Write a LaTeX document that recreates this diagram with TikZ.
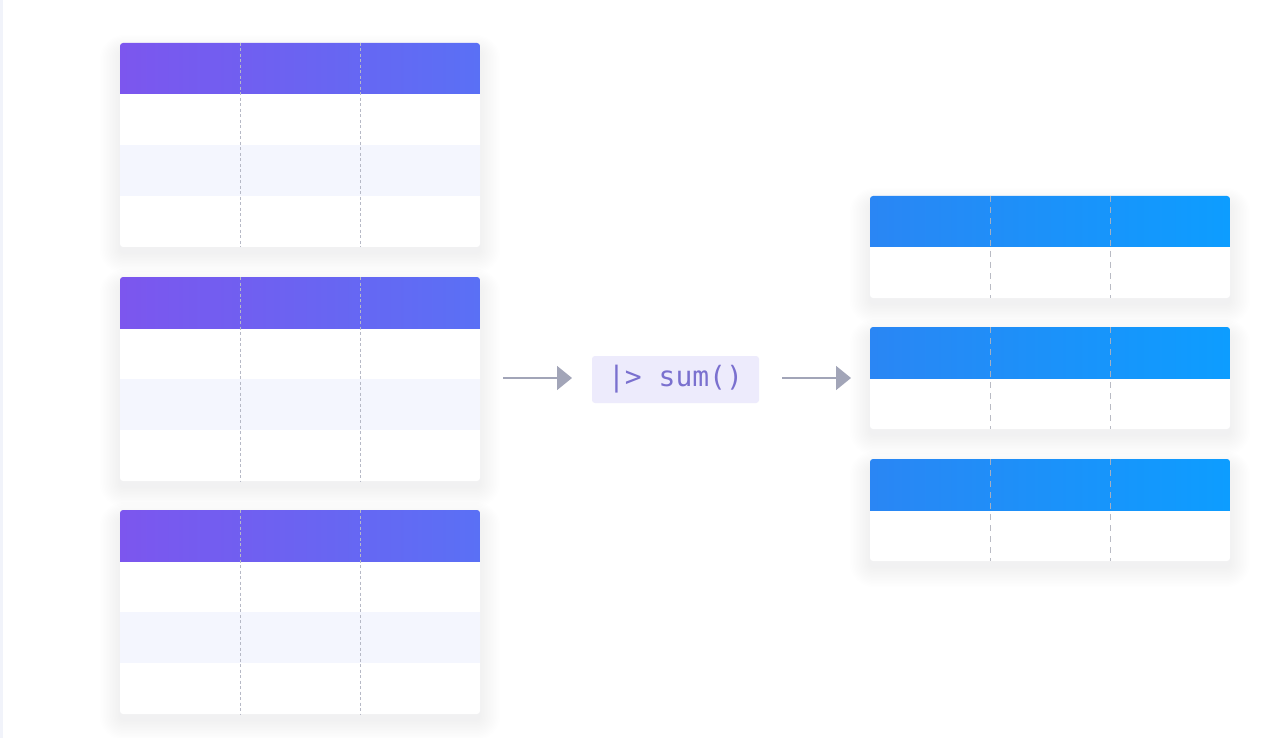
\documentclass[tikz,border=0pt]{standalone}
\usepackage{fontspec}
\setmonofont{DejaVu Sans Mono}
\usetikzlibrary{arrows.meta,calc}
\definecolor{lhl}{HTML}{7C56EE}
\definecolor{lhr}{HTML}{5A70F5}
\definecolor{rhl}{HTML}{2A86F4}
\definecolor{rhr}{HTML}{0D9DFF}
\definecolor{stripecol}{HTML}{F4F6FE}
\definecolor{shadowcol}{HTML}{98A2F2}
\definecolor{ldiv}{HTML}{B6B9C6}
\definecolor{rdiv}{HTML}{B2B4BE}
\definecolor{arrcol}{HTML}{A2A5B8}
\definecolor{opfill}{HTML}{EDEBFC}
\definecolor{optext}{HTML}{7A70CF}
\definecolor{edgecol}{HTML}{F1F3FA}
\tikzset{
  tbl/.style={rectangle, inner sep=0pt, outer sep=0pt, minimum width=360pt, anchor=north west},
  ldash/.style={draw=ldiv, line width=0.9pt, dash pattern=on 3pt off 2.5pt},
  rdash/.style={draw=rdiv, line width=1.6pt, dash pattern=on 6pt off 5pt, draw opacity=0.9},
  conn/.style={draw=arrcol, line width=1.6pt, -{Triangle[length=15pt,width=24pt]}},
  op/.style={rectangle, fill=opfill, rounded corners=3pt, minimum width=167pt, minimum height=47pt,
     inner sep=0pt, text=optext, font=\ttfamily\fontsize{28}{30}\selectfont}
}
% name, x, ytop, nrows(incl header), leftcol, rightcol, divider style, stripe(1/0)
\newcommand\drawtable[8]{%
  \foreach \i in {1,...,14}{%
    \fill[shadowcol, opacity=0.009, rounded corners={3+1.5*\i}]
      ($(#2,#3)+(-1.5*\i+1,-1.2*\i+9)$) rectangle ($(#2,#3)+(359+1.5*\i,51*#4+1.5*\i+5)$);
  }
  \node[tbl, minimum height={51*#4}] (#1) at (#2,#3) {};
  \fill[white, rounded corners=3pt] (#1.north west) rectangle (#1.south east);
  \begin{scope}
    \clip[rounded corners=3pt] (#1.north west) rectangle (#1.south east);
    \shade[left color=#5, right color=#6] (#1.north west) rectangle ([yshift=-51pt]#1.north east);
    \ifnum#8=1
      \fill[stripecol] ([yshift=-102pt]#1.north west) rectangle ([yshift=-153pt]#1.north east);
    \fi
  \end{scope}
  \foreach \k in {1,2}{%
    \draw[#7] ([xshift={\k*120.3pt}]#1.north west) -- ([xshift={\k*120.3pt}]#1.south west);
  }
}
\begin{document}
\begin{tikzpicture}[x=1pt,y=-1pt]
  \useasboundingbox (0,0) rectangle (1280,738);
  \fill[white] (0,0) rectangle (1280,738);
  \fill[edgecol] (0,0) rectangle (2.5,738);

  \drawtable{t1}{120}{43}{4}{lhl}{lhr}{ldash}{1}
  \drawtable{t2}{120}{277}{4}{lhl}{lhr}{ldash}{1}
  \drawtable{t3}{120}{510}{4}{lhl}{lhr}{ldash}{1}

  \drawtable{r1}{870}{196}{2}{rhl}{rhr}{rdash}{0}
  \drawtable{r2}{870}{327}{2}{rhl}{rhr}{rdash}{0}
  \drawtable{r3}{870}{459}{2}{rhl}{rhr}{rdash}{0}

  \node[op] (op) at (675.5,379.5) {|> sum()};

  \coordinate (a1s) at (503,378);
  \coordinate (a1e) at (572,378);
  \coordinate (a2s) at (782,378);
  \coordinate (a2e) at (851,378);
  \draw[conn] (a1s) -- (a1e);
  \draw[conn] (a2s) -- (a2e);
\end{tikzpicture}
\end{document}
